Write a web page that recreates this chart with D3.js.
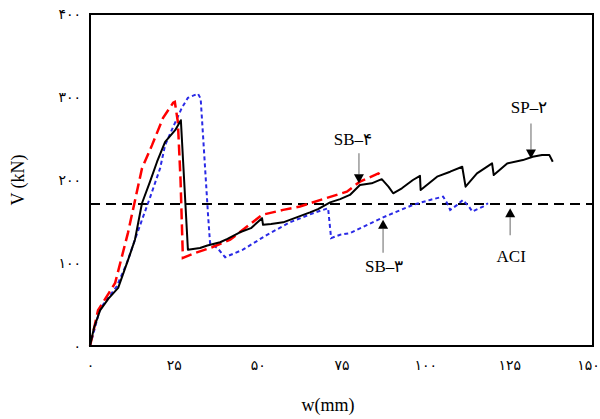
<!DOCTYPE html>
<html>
<head>
<meta charset="utf-8">
<script src="https://cdn.jsdelivr.net/npm/d3@7"></script>
<style>
  body { margin: 0; background: #fff; }
  text { font-family: "Liberation Serif", "DejaVu Serif", serif; }
  .tick text { font-family: "DejaVu Sans", sans-serif; }
</style>
</head>
<body>
<script>
// SP-2 (black solid)
var spW = [0, 1.2, 3, 5.5, 8.4, 9.8, 11.9, 13.4, 15.5, 17.9, 20, 22.4, 25.4, 27.1, 29.2, 32.8, 35, 38.8, 41, 44.7, 48, 51.3, 51.6, 54, 57.6, 61, 65.6, 68, 71.6, 74.6, 77.5, 80.5, 84, 87, 89, 90.4, 93, 96.3, 98.4, 98.6, 103.5, 107.4, 111, 112, 115.4, 119.9, 120.4, 124.4, 129.1, 132, 134.8, 137, 138];
var spV = [0, 22, 43, 57, 70, 86, 110, 128, 172, 198, 222, 246, 260, 272, 116, 118, 121, 125, 129, 137, 142, 154, 146, 147, 149, 154, 161, 165, 173, 177, 182, 194, 196, 201, 192, 184, 190, 200, 205, 188, 204, 210, 216, 192, 208, 220, 206, 220, 224, 228, 230, 230, 222];

// SB-4 (red dashed)
var sb4W = [0, 0.8, 2.4, 7.5, 11.3, 15.5, 18.5, 21.8, 24.8, 25.3, 26.2, 27, 27.7, 31.3, 36.4, 41.8, 51.3, 57.6, 62.6, 69.5, 76.6, 80.5, 86, 87.4];
var sb4V = [0, 14, 43, 76, 136, 214, 242, 275, 293, 294, 270, 200, 106, 112, 119, 128, 158, 164, 168, 177, 186, 198, 208, 204];

// SB-3 (blue dotted)
var sb3W = [0, 3, 8, 11, 14, 18, 20.9, 22.4, 24.8, 27.4, 29.2, 32.2, 33, 33.7, 35.2, 35.8, 38, 40.3, 45.6, 52.8, 59.6, 66.5, 71, 71.9, 74.6, 77.5, 87.4, 96.3, 101.4, 105.3, 106.5, 107.4, 109.5, 111.2, 113, 114, 117.2, 118.7];
var sb3V = [0, 45, 72, 100, 135, 180, 214, 242, 264, 287, 299, 304, 298, 254, 158, 124, 118, 107, 116, 134, 149, 160, 166, 130, 134, 136, 155, 170, 176, 180, 172, 164, 170, 176, 168, 162, 168, 172];

var aciV = 171;

var xTicks = [0, 25, 50, 75, 100, 125, 150];
var yTicks = [0, 100, 200, 300, 400];

// annotations: label, arrow x (w) and arrow tip (V)
var noteLabels = ["SP–۲", "SB–۴", "SB–۳", "ACI"];
var noteW = [131.5, 80.2, 87.4, 125.3];
var noteTipV = [226, 196, 152, 166];

// arrow direction (-1 down, label above / 1 up, label below), length, label offsets
var noteLayout = [
  {dir: -1, len: 35, dx: -2, dy: -10},
  {dir: -1, len: 30, dx: -6, dy: -8},
  {dir: 1, len: 33, dx: 1, dy: 19},
  {dir: 1, len: 27, dx: 1, dy: 27}
];

var fa = function(n) {
  return String(n).replace(/[0-9]/g, function(c) { return "۰۱۲۳۴۵۶۷۸۹"[+c]; });
};

var margin = {top: 14, right: 7, bottom: 73, left: 90};
var width = 600 - margin.left - margin.right;
var height = 419 - margin.top - margin.bottom;

var svg = d3.select("body").append("svg")
  .attr("width", 600)
  .attr("height", 419);

var g = svg.append("g")
  .attr("transform", "translate(" + margin.left + "," + margin.top + ")");

var x = d3.scaleLinear().domain([0, 150]).range([0, width]);
var y = d3.scaleLinear().domain([0, 400]).range([height, 0]);

var xAxis = d3.axisBottom(x).tickValues(xTicks).tickSize(0).tickPadding(14).tickFormat(fa);
var yAxis = d3.axisLeft(y).tickValues(yTicks).tickSize(0).tickPadding(9).tickFormat(fa);

g.append("g")
  .attr("transform", "translate(0," + height + ")")
  .call(xAxis)
  .call(function(s) { s.select(".domain").remove(); })
  .selectAll("text")
  .attr("font-size", 14)
  .attr("fill", "#000")
  .attr("dx", function(d) { return d === 150 ? -5 : 0; });

g.append("g")
  .call(yAxis)
  .call(function(s) { s.select(".domain").remove(); })
  .selectAll("text").attr("font-size", 14).attr("fill", "#000");

var line = d3.line()
  .x(function(d) { return x(d[0]); })
  .y(function(d) { return y(d[1]); });

var zip = function(a, b) { return a.map(function(v, i) { return [v, b[i]]; }); };

// ACI line
g.append("path")
  .attr("d", line([[0, aciV], [150, aciV]]))
  .attr("fill", "none")
  .attr("stroke", "#000")
  .attr("stroke-width", 2)
  .attr("stroke-dasharray", "10,6");

g.append("path")
  .attr("d", line(zip(sb3W, sb3V)))
  .attr("fill", "none")
  .attr("stroke", "#2a2ae6")
  .attr("stroke-width", 2)
  .attr("stroke-dasharray", "4,3");

g.append("path")
  .attr("d", line(zip(sb4W, sb4V)))
  .attr("fill", "none")
  .attr("stroke", "#ff0000")
  .attr("stroke-width", 2.5)
  .attr("stroke-dasharray", "11,5");

g.append("path")
  .attr("d", line(zip(spW, spV)))
  .attr("fill", "none")
  .attr("stroke", "#000")
  .attr("stroke-width", 2)
  .attr("stroke-linejoin", "round");

// frame
g.append("rect")
  .attr("width", width)
  .attr("height", height)
  .attr("fill", "none")
  .attr("stroke", "#000")
  .attr("stroke-width", 2);

// annotations
noteLabels.forEach(function(lab, i) {
  var L = noteLayout[i];
  var ax = x(noteW[i]);
  var tip = y(noteTipV[i]);
  var head = 9;
  var base = tip + L.dir * head;
  var tail = tip + L.dir * L.len;
  g.append("line")
    .attr("x1", ax).attr("x2", ax)
    .attr("y1", tail).attr("y2", base)
    .attr("stroke", "#999")
    .attr("stroke-width", 1.5);
  g.append("path")
    .attr("d", "M" + (ax - 5) + "," + base + "L" + (ax + 5) + "," + base + "L" + ax + "," + tip + "Z")
    .attr("fill", "#000");
  g.append("text")
    .attr("x", ax + L.dx)
    .attr("y", tail + L.dy)
    .attr("text-anchor", "middle")
    .attr("font-size", 17)
    .text(lab);
});

// axis titles
svg.append("text")
  .attr("x", margin.left + x(71))
  .attr("y", 411)
  .attr("text-anchor", "middle")
  .attr("font-size", 18)
  .text("w(mm)");

svg.append("text")
  .attr("transform", "translate(24,180) rotate(-90)")
  .attr("text-anchor", "middle")
  .attr("font-size", 18)
  .text("V (kN)");
</script>
</body>
</html>
